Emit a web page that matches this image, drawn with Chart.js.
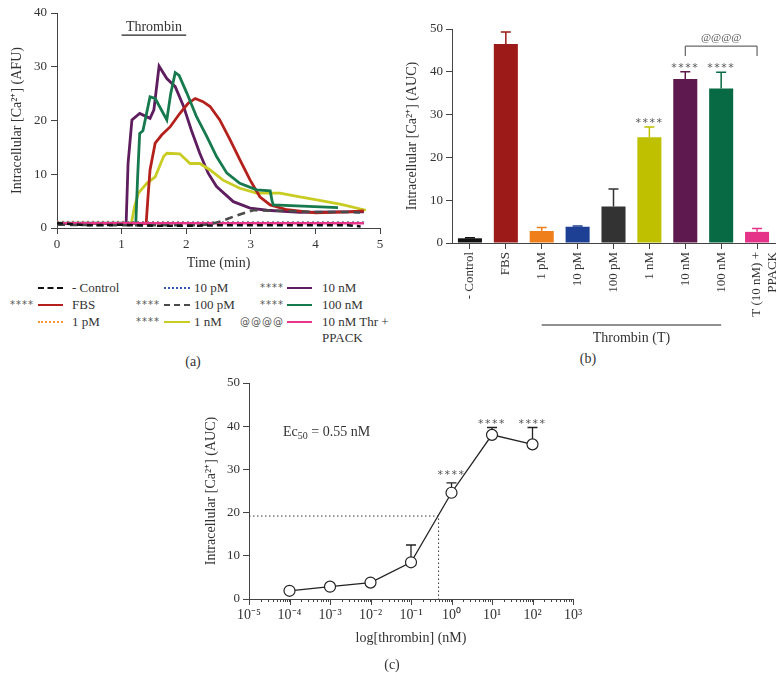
<!DOCTYPE html>
<html><head><meta charset="utf-8">
<script src="https://cdn.jsdelivr.net/npm/chart.js@4/dist/chart.umd.min.js"></script>
<style>
body{margin:0;background:#fff;width:784px;height:690px;position:relative;overflow:hidden;font-family:"Liberation Serif",serif;color:#333}
canvas{position:absolute}
.t{position:absolute;font-size:13px;white-space:nowrap;line-height:1}
.cen{transform:translate(-50%,-50%)}
.st{position:absolute;font-family:"DejaVu Sans",sans-serif;font-size:10px;letter-spacing:1px;color:#555;line-height:1;transform:translate(-100%,-50%)}
.ln{position:absolute;height:0}
</style></head><body>
<canvas id="ca" width="390" height="280" style="left:0;top:0"></canvas>
<canvas id="cb" width="394" height="350" style="left:390px;top:0"></canvas>
<canvas id="cc" width="420" height="300" style="left:190px;top:370px"></canvas>
<div id="legendA"></div>
<div class="t cen" style="left:193px;top:362px;font-size:14px">(a)</div>
<div class="t cen" style="left:588px;top:359px;font-size:14px">(b)</div>
<div class="t cen" style="left:392px;top:665px;font-size:14px">(c)</div>
<div class="t" style="left:283px;top:425px;font-size:14px">Ec<sub style="font-size:10px;vertical-align:-3px">50</sub> = 0.55 nM</div>
<script>
// ---------- Panel (a) data: time (min) and fluorescence (AFU) ----------
const ctrlT = [0, 0.5, 1.0, 1.5, 2.0, 2.5, 3.0, 3.5, 4.0, 4.5, 4.7];
const ctrlV = [0.9, 0.5, 0.6, 0.4, 0.4, 0.5, 0.5, 0.5, 0.5, 0.5, 0.3];
const fbsT = [0, 1.38, 1.41, 1.44, 1.52, 1.62, 1.75, 1.90, 2.03, 2.14, 2.26, 2.37, 2.52, 2.68, 2.83, 2.99, 3.14, 3.30, 3.56, 4.0, 4.5, 4.75];
const fbsV = [0.8, 0.8, 6, 10.8, 15.8, 17.3, 18.8, 21.3, 23.2, 24.1, 23.5, 22.6, 20.1, 16.4, 12.7, 8.9, 5.8, 4.3, 3.4, 2.8, 3.0, 3.2];
const p1T = [0, 1, 2, 3, 4, 4.75];
const p1V = [1.1, 1.1, 1.0, 1.0, 1.0, 1.0];
const p10T = [0, 1, 2, 3, 4, 4.75];
const p10V = [1.0, 1.0, 1.0, 1.0, 1.0, 1.0];
const p100T = [0, 1.0, 2.0, 2.2, 2.37, 2.55, 2.73, 2.9, 3.04, 3.5, 4.0, 4.5, 4.69];
const p100V = [0.6, 0.5, 0.5, 0.5, 0.7, 1.3, 2.1, 2.8, 3.3, 3.2, 3.0, 3.0, 2.9];
const n1T = [0, 1.15, 1.20, 1.26, 1.39, 1.52, 1.65, 1.70, 1.90, 2.06, 2.21, 2.37, 2.57, 2.83, 3.09, 3.45, 3.76, 4.0, 4.4, 4.78];
const n1V = [0.8, 0.8, 4, 6.5, 8.3, 9.5, 13.3, 13.9, 13.8, 12.0, 12.0, 10.8, 8.9, 7.4, 6.5, 6.5, 5.8, 5.3, 4.4, 3.3];
const n10T = [0, 1.07, 1.10, 1.16, 1.28, 1.44, 1.50, 1.58, 1.70, 1.83, 1.96, 2.08, 2.21, 2.34, 2.47, 2.73, 2.99, 3.25, 3.76, 4.3, 4.75];
const n10V = [0.8, 0.8, 12, 20.1, 21.3, 20.4, 22, 30.1, 27.8, 26.3, 22.6, 18.2, 13.9, 10.2, 7.7, 4.9, 3.7, 3.3, 2.9, 3.0, 3.0];
const n100T = [0, 1.22, 1.25, 1.28, 1.33, 1.44, 1.52, 1.70, 1.76, 1.83, 1.89, 2.01, 2.16, 2.32, 2.47, 2.63, 2.83, 3.09, 3.30, 3.33, 3.35, 4.35];
const n100V = [0.9, 0.9, 10, 17.6, 18.1, 24.4, 24.1, 20.1, 25, 28.9, 28.4, 25.1, 20.7, 17.0, 13.3, 10.2, 8.3, 7.1, 6.9, 5, 4.3, 3.8];
const ppT = [0, 1, 2, 3, 4, 4.75];
const ppV = [0.9, 0.9, 0.9, 0.9, 0.9, 0.9];

// ---------- Panel (b) data ----------
const barLabels = ['- Control', 'FBS', '1 pM', '10 pM', '100 pM', '1 nM', '10 nM', '100 nM', ['T (10 nM) +', 'PPACK']];
const barMeans = [1.1, 46.5, 2.8, 3.8, 8.5, 24.7, 38.3, 36.1, 2.6];
const barErrTop = [1.25, 49.3, 3.65, 4.0, 12.6, 27.1, 40.0, 39.9, 3.4];
const barStars = ['', '', '', '', '', '****', '****', '****', ''];
const barColors = ['#111111', '#9c1a17', '#ef7f1a', '#1d3f94', '#333333', '#bfc000', '#5e1a4e', '#076a45', '#e6338a'];

// ---------- Panel (c) data ----------
const doses = [1e-4, 1e-3, 1e-2, 1e-1, 1, 10, 100];
const doseMeans = [1.9, 2.85, 3.8, 8.5, 24.6, 38.0, 35.8];
const doseErrTop = [1.9, 2.85, 3.8, 12.5, 26.9, 39.7, 39.7];
const doseStars = ['', '', '', '', '****', '****', '****'];
const ec50 = 0.48, ec50Resp = 19.2;
const cTickLabels = ['10⁻⁵','10⁻⁴','10⁻³','10⁻²','10⁻¹','10⁰','10¹','10²','10³'];

const FONT = {family: '"Liberation Serif", serif', size: 13};
const TFONT = {family: '"Liberation Serif", serif', size: 14};
const TXT = '#333', AX = '#444';

// ---------- Panel (a) ----------
const seriesA = [
  {label: '- Control', t: ctrlT, v: ctrlV, color: '#111', dash: [6, 4], w: 2.5, stars: '', col: 0, row: 0},
  {label: '100 pM', t: p100T, v: p100V, color: '#4a4a4a', dash: [8, 5], w: 2.5, stars: '****', col: 1, row: 1},
  {label: '10 nM Thr +', label2: 'PPACK', t: ppT, v: ppV, color: '#e8358c', dash: [], w: 2.5, stars: '@@@@', col: 2, row: 2},
  {label: '10 pM', t: p10T, v: p10V, color: '#3655b0', dash: [2, 3], w: 2.5, stars: '', col: 1, row: 0},
  {label: '1 pM', t: p1T, v: p1V, color: '#f29a3a', dash: [2, 3], w: 2.5, stars: '', col: 0, row: 2},
  {label: '100 nM', t: n100T, v: n100V, color: '#177a4f', dash: [], w: 2.8, stars: '****', col: 2, row: 1},
  {label: 'FBS', t: fbsT, v: fbsV, color: '#b4201c', dash: [], w: 2.8, stars: '****', col: 0, row: 1},
  {label: '1 nM', t: n1T, v: n1V, color: '#c9cc22', dash: [], w: 2.8, stars: '****', col: 1, row: 2},
  {label: '10 nM', t: n10T, v: n10V, color: '#5d1d5e', dash: [], w: 2.8, stars: '****', col: 2, row: 0},
];

const thrombinBar = {
  id: 'thrombinBar',
  afterDraw(chart) {
    const {ctx, scales: {x, y}} = chart;
    const x1 = x.getPixelForValue(1), x2 = x.getPixelForValue(2), yy = y.getPixelForValue(35.9);
    ctx.save();
    ctx.strokeStyle = '#222'; ctx.lineWidth = 1.2;
    ctx.beginPath(); ctx.moveTo(x1, yy); ctx.lineTo(x2, yy); ctx.stroke();
    ctx.fillStyle = TXT; ctx.font = '14px "Liberation Serif", serif';
    ctx.textAlign = 'center'; ctx.textBaseline = 'middle';
    ctx.fillText('Thrombin', x.getPixelForValue(1.5), yy - 8);
    ctx.restore();
  }
};

new Chart(document.getElementById('ca'), {
  type: 'line',
  data: {datasets: seriesA.map(s => ({
    label: s.label, data: s.t.map((t, i) => ({x: t, y: s.v[i]})),
    borderColor: s.color, borderWidth: s.w, borderDash: s.dash, pointRadius: 0, tension: 0, fill: false
  }))},
  options: {
    responsive: false, animation: false, devicePixelRatio: 1,
    layout: {padding: {top: 13, right: 10, left: 0, bottom: 0}},
    plugins: {legend: {display: false}, tooltip: {enabled: false}},
    scales: {
      x: {type: 'linear', min: 0, max: 5,
        ticks: {stepSize: 1, font: FONT, color: TXT, padding: 3, maxRotation: 0},
        grid: {drawOnChartArea: false, tickLength: 6, color: AX},
        border: {color: AX},
        title: {display: true, text: 'Time (min)', font: TFONT, color: TXT, padding: {top: 0, bottom: 8}},
        afterFit(s) { s.height = 52; }},
      y: {min: 0, max: 40,
        ticks: {stepSize: 10, font: FONT, color: TXT, padding: 4},
        grid: {drawOnChartArea: false, tickLength: 6, color: AX},
        border: {color: AX},
        title: {display: true, text: 'Intracellular [Ca²⁺] (AFU)', font: TFONT, color: TXT, padding: {top: 9, bottom: 0}},
        afterFit(s) { s.width = 57; }}
    }
  },
  plugins: [thrombinBar]
});

// legend (a)
(function () {
  const colX = [{st: 34, l1: 38, l2: 63, tx: 72}, {st: 160, l1: 164, l2: 190, tx: 194}, {st: 284, l1: 287, l2: 312, tx: 322}];
  const rowY = [288, 305, 322];
  const box = document.getElementById('legendA');
  let html = '';
  seriesA.forEach(s => {
    const c = colX[s.col], y = rowY[s.row];
    let style;
    if (s.dash.length && s.dash[0] > 3) style = `border-top:2.5px dashed ${s.color}`;
    else if (s.dash.length) style = `border-top:2px dotted ${s.color}`;
    else style = `border-top:2.5px solid ${s.color}`;
    if (s.stars) html += `<div class="st" style="left:${c.st}px;top:${y}px">${s.stars}</div>`;
    html += `<div class="ln" style="left:${c.l1}px;top:${y - 1}px;width:${c.l2 - c.l1}px;${style}"></div>`;
    html += `<div class="t" style="left:${c.tx}px;top:${y - 7}px">${s.label}</div>`;
    if (s.label2) html += `<div class="t" style="left:${c.tx}px;top:${y + 9}px">${s.label2}</div>`;
  });
  box.innerHTML = html;
})();

// ---------- Panel (b) ----------
const barExtras = {
  id: 'barExtras',
  afterDatasetsDraw(chart) {
    const {ctx, scales: {x, y}, chartArea} = chart;
    const meta = chart.getDatasetMeta(0);
    ctx.save();
    meta.data.forEach((bar, i) => {
      const yb = y.getPixelForValue(barMeans[i]), ye = y.getPixelForValue(barErrTop[i]);
      ctx.strokeStyle = barColors[i]; ctx.lineWidth = 1.5;
      ctx.beginPath();
      ctx.moveTo(bar.x, yb); ctx.lineTo(bar.x, ye);
      ctx.moveTo(bar.x - 5, ye); ctx.lineTo(bar.x + 5, ye);
      ctx.stroke();
      if (barStars[i]) {
        ctx.fillStyle = '#555'; ctx.font = '11px "DejaVu Sans", sans-serif';
        ctx.letterSpacing = '1.5px';
        ctx.textAlign = 'center'; ctx.textBaseline = 'middle';
        const sy = i === 5 ? y.getPixelForValue(28.7) : y.getPixelForValue(41.6);
        ctx.fillText(barStars[i], bar.x, sy + 3);
      }
    });
    ctx.letterSpacing = '0px';
    // bracket 10 nM vs PPACK
    const xa = meta.data[6].x, xb = meta.data[8].x;
    const yt = y.getPixelForValue(46.0), ybt = y.getPixelForValue(43.7);
    ctx.strokeStyle = '#444'; ctx.lineWidth = 1;
    ctx.beginPath();
    ctx.moveTo(xa, ybt); ctx.lineTo(xa, yt); ctx.lineTo(xb, yt); ctx.lineTo(xb, ybt);
    ctx.stroke();
    ctx.fillStyle = '#555'; ctx.font = '11px "Liberation Serif", serif';
    ctx.textAlign = 'center'; ctx.textBaseline = 'middle';
    ctx.fillText('@@@@', (xa + xb) / 2, y.getPixelForValue(47.9));
    // Thrombin (T) group line
    const x1 = x.getPixelForValue(2), x2 = x.getPixelForValue(7), yl = chartArea.bottom + 82;
    ctx.strokeStyle = '#222'; ctx.lineWidth = 1.2;
    ctx.beginPath(); ctx.moveTo(x1, yl); ctx.lineTo(x2, yl); ctx.stroke();
    ctx.fillStyle = TXT; ctx.font = '14px "Liberation Serif", serif';
    ctx.fillText('Thrombin (T)', (x1 + x2) / 2, yl + 13);
    ctx.restore();
  }
};

new Chart(document.getElementById('cb'), {
  type: 'bar',
  data: {labels: barLabels, datasets: [{data: barMeans, backgroundColor: barColors, borderWidth: 0,
    barPercentage: 0.67, categoryPercentage: 1}]},
  options: {
    responsive: false, animation: false, devicePixelRatio: 1,
    layout: {padding: {top: 29, right: 9, left: 0, bottom: 0}},
    plugins: {legend: {display: false}, tooltip: {enabled: false}},
    scales: {
      x: {ticks: {font: FONT, color: TXT, padding: 3, minRotation: 90, maxRotation: 90, autoSkip: false},
        grid: {offset: false, drawOnChartArea: false, tickLength: 6, color: AX},
        border: {color: AX},
        afterFit(s) { s.height = 107; s.paddingLeft = 0; s.paddingRight = 0; }},
      y: {min: 0, max: 50,
        ticks: {stepSize: 10, font: FONT, color: TXT, padding: 3},
        grid: {drawOnChartArea: false, tickLength: 6, color: AX},
        border: {color: AX},
        title: {display: true, text: 'Intracellular [Ca²⁺] (AUC)', font: TFONT, color: TXT, padding: {top: 14, bottom: 0}},
        afterFit(s) { s.width = 62; s.paddingTop = 0; s.paddingBottom = 0; }}
    }
  },
  plugins: [barExtras]
});

// ---------- Panel (c) ----------
const doseExtras = {
  id: 'doseExtras',
  beforeDatasetsDraw(chart) {
    const {ctx, scales: {x, y}} = chart;
    ctx.save();
    ctx.strokeStyle = '#222'; ctx.lineWidth = 1.3;
    doses.forEach((d, i) => {
      if (doseErrTop[i] <= doseMeans[i]) return;
      const px = x.getPixelForValue(d), yb = y.getPixelForValue(doseMeans[i]), ye = y.getPixelForValue(doseErrTop[i]);
      ctx.beginPath();
      ctx.moveTo(px, yb); ctx.lineTo(px, ye);
      ctx.moveTo(px - 5, ye); ctx.lineTo(px + 5, ye);
      ctx.stroke();
    });
    ctx.restore();
  },
  afterDraw(chart) {
    const {ctx, scales: {x, y}, chartArea} = chart;
    ctx.save();
    ctx.strokeStyle = AX; ctx.lineWidth = 1;
    x.ticks.forEach(t => {
      const l = Math.log10(t.value);
      if (Math.abs(l - Math.round(l)) < 1e-6) {
        const px = Math.round(x.getPixelForValue(t.value)) + 0.5;
        ctx.beginPath(); ctx.moveTo(px, chartArea.bottom); ctx.lineTo(px, chartArea.bottom + 6); ctx.stroke();
      }
    });
    ctx.fillStyle = '#555'; ctx.font = '11px "DejaVu Sans", sans-serif';
    ctx.letterSpacing = '1.5px';
    ctx.textAlign = 'center'; ctx.textBaseline = 'middle';
    doses.forEach((d, i) => {
      if (!doseStars[i]) return;
      const sy = i === 4 ? y.getPixelForValue(29.4) : y.getPixelForValue(41.2);
      ctx.fillText(doseStars[i], x.getPixelForValue(d), sy + 3);
    });
    ctx.restore();
  }
};

new Chart(document.getElementById('cc'), {
  type: 'line',
  data: {datasets: [
    {data: [{x: 1e-5, y: ec50Resp}, {x: ec50, y: ec50Resp}, {x: ec50, y: 0}],
      borderColor: '#333', borderWidth: 1, borderDash: [1.5, 2.5], pointRadius: 0, tension: 0},
    {data: doses.map((d, i) => ({x: d, y: doseMeans[i]})),
      borderColor: '#222', borderWidth: 1.3, tension: 0,
      pointRadius: 5.5, pointBackgroundColor: '#fff', pointBorderColor: '#222', pointBorderWidth: 1.2}
  ]},
  options: {
    responsive: false, animation: false, devicePixelRatio: 1,
    layout: {padding: {top: 13, right: 37, left: 0, bottom: 0}},
    plugins: {legend: {display: false}, tooltip: {enabled: false}},
    scales: {
      x: {type: 'logarithmic', min: 1e-5, max: 1e3,
        afterBuildTicks(s) {
          const ticks = [];
          for (let e = -5; e <= 2; e++) for (let m = 1; m <= 9; m++) ticks.push({value: m * Math.pow(10, e)});
          ticks.push({value: 1e3});
          s.ticks = ticks;
        },
        ticks: {font: {family: '"Liberation Serif", serif', size: 14}, color: TXT, padding: 5, maxRotation: 0, autoSkip: false,
          callback(v) {
            const l = Math.log10(v);
            if (Math.abs(l - Math.round(l)) < 1e-6) return cTickLabels[Math.round(l) + 5];
            return '';
          }},
        grid: {drawOnChartArea: false, tickLength: 3, color: AX},
        border: {color: AX},
        title: {display: true, text: 'log[thrombin] (nM)', font: TFONT, color: TXT, padding: {top: 0, bottom: 23}},
        afterFit(s) { s.height = 71; }},
      y: {min: 0, max: 50,
        ticks: {stepSize: 10, font: FONT, color: TXT, padding: 3},
        grid: {drawOnChartArea: false, tickLength: 6, color: AX},
        border: {color: AX},
        title: {display: true, text: 'Intracellular [Ca²⁺] (AUC)', font: TFONT, color: TXT, padding: {top: 13, bottom: 0}},
        afterFit(s) { s.width = 59; }}
    }
  },
  plugins: [doseExtras]
});
</script>
</body></html>
